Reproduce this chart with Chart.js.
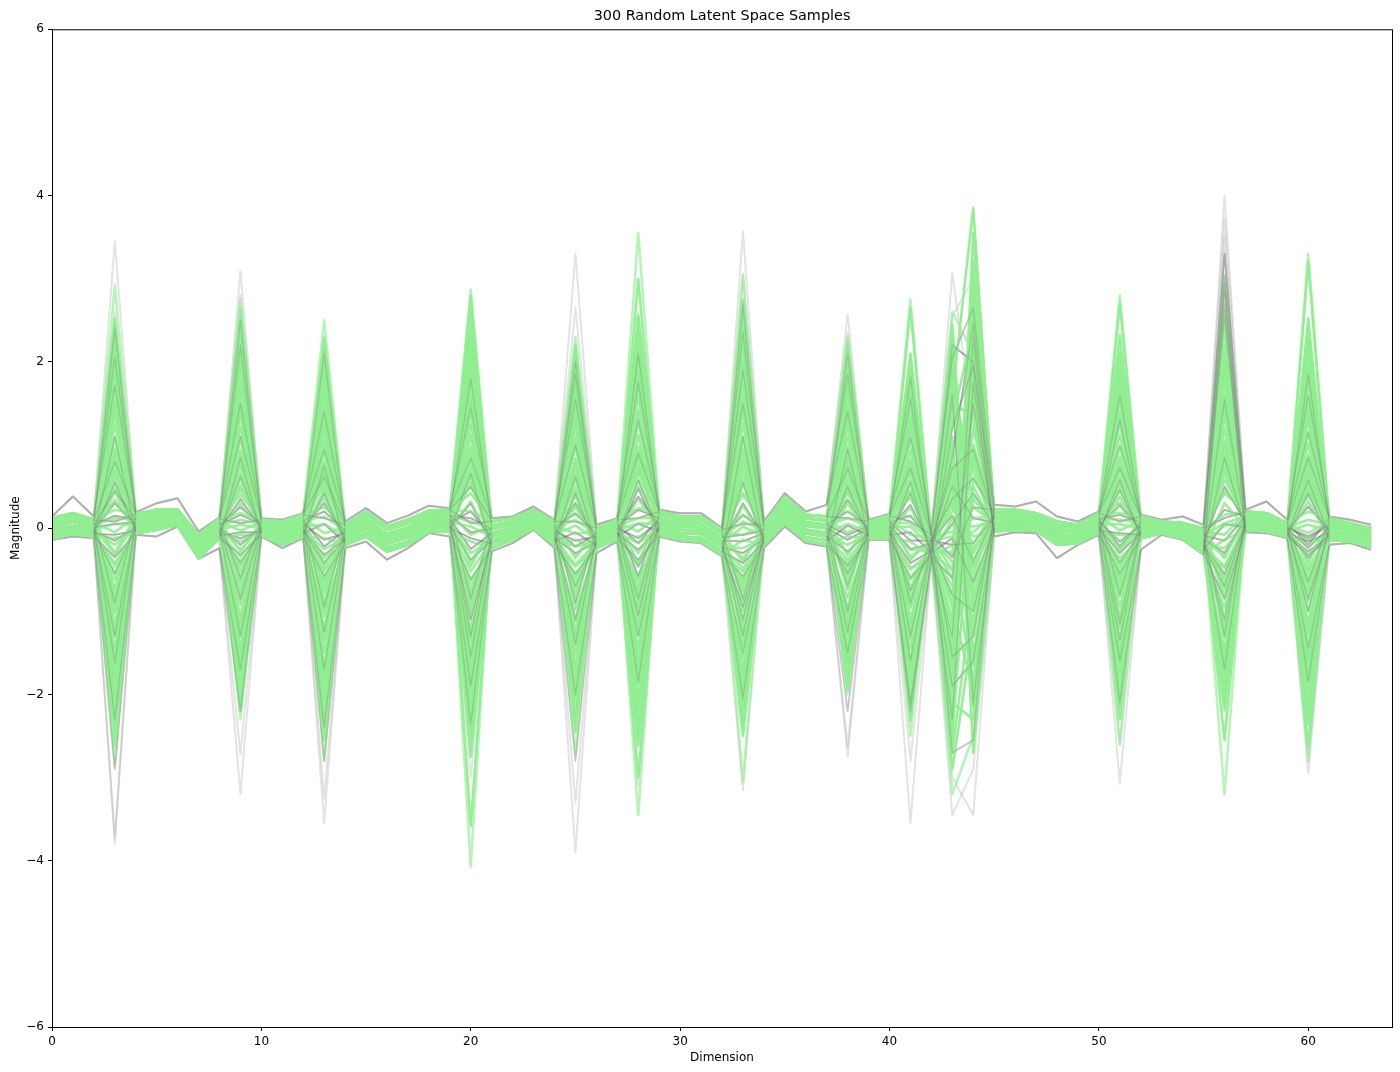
<!DOCTYPE html>
<html><head><meta charset="utf-8">
<script src="https://cdn.jsdelivr.net/npm/chart.js@4"></script>
<style>html,body{margin:0;padding:0;background:#fff}#w{width:1400px;height:1072px;position:relative}</style>
</head><body><div id="w"><canvas id="c" width="1400" height="1072"></canvas></div>
<script>
const titleText = "300 Random Latent Space Samples";
const xLabel = "Dimension";
const yLabel = "Magnitude";
const xTicks = [0,10,20,30,40,50,60];
const yTicks = [-6,-4,-2,0,2,4,6];
const spikeDims = [3,9,13,20,25,28,33,38,41,43,44,51,56,60];
const baseDims = [0,1,2,4,5,6,7,8,10,11,12,14,15,16,17,18,19,21,22,23,24,26,27,29,30,31,32,34,35,36,37,39,40,42,45,46,47,48,49,50,52,53,54,55,57,58,59,61,62,63];
// quiet-dimension band, one row per baseDims entry, top to bottom of the green band
const bandRows = [
[.12,.09,.05,.02,-.02,-.05,-.09,-.12],[.18,.15,.11,.08,.03,0,-.04,-.07],[.10,.07,.04,.01,-.02,-.04,-.07,-.10],
[.17,.14,.10,.07,.04,.01,-.03,-.06],[.22,.19,.15,.12,.08,.05,.01,-.02],[.22,.19,.17,.14,.12,.09,.07,.04],
[-.08,-.12,-.16,-.20,-.24,-.28,-.32,-.36],[.11,.08,.04,.01,-.02,-.05,-.09,-.12],[.10,.07,.05,.02,0,-.03,-.05,-.08],
[.08,.04,0,-.04,-.08,-.12,-.16,-.20],[.16,.12,.09,.05,.01,-.03,-.06,-.10],[.04,.01,-.03,-.06,-.10,-.13,-.17,-.20],
[.20,.16,.11,.07,.03,-.01,-.06,-.10],[.02,-.02,-.07,-.11,-.15,-.19,-.24,-.28],[.10,.06,.01,-.03,-.07,-.11,-.16,-.20],
[.21,.17,.14,.10,.07,.03,0,-.04],[.22,.18,.15,.11,.07,.03,0,-.04],[.08,.03,-.01,-.06,-.10,-.15,-.19,-.24],
[.12,.08,.05,.01,-.03,-.07,-.10,-.14],[.22,.19,.16,.13,.09,.06,.03,0],[.08,.04,0,-.04,-.08,-.12,-.16,-.20],
[0,-.03,-.07,-.10,-.14,-.17,-.21,-.24],[.10,.07,.03,0,-.03,-.06,-.10,-.13],[.20,.16,.12,.08,.04,0,-.04,-.08],
[.14,.10,.06,.02,-.02,-.06,-.10,-.14],[.14,.10,.05,.01,-.03,-.07,-.12,-.16],[-.02,-.06,-.11,-.15,-.19,-.23,-.28,-.32],
[.04,.01,-.03,-.06,-.10,-.13,-.17,-.20],[.38,.33,.29,.24,.20,.15,.11,.06],[.16,.12,.07,.03,-.02,-.06,-.11,-.15],
[.14,.09,.04,0,-.06,-.10,-.15,-.20],[.08,.05,.02,0,-.04,-.06,-.09,-.12],[.15,.11,.07,.03,0,-.04,-.08,-.12],
[-.08,-.12,-.15,-.19,-.23,-.27,-.30,-.34],[.22,.18,.14,.11,.07,.03,0,-.04],[.22,.19,.15,.12,.08,.05,.01,-.02],
[.18,.15,.12,.09,.06,.03,0,-.03],[.08,.04,0,-.04,-.08,-.12,-.16,-.20],[.04,.01,-.02,-.05,-.09,-.12,-.15,-.18],
[.18,.15,.11,.08,.04,.01,-.03,-.06],[.14,.10,.07,.03,-.01,-.05,-.08,-.12],[.08,.06,.04,.02,0,-.02,-.04,-.06],
[.06,.03,.01,-.02,-.04,-.07,-.09,-.12],[0,-.04,-.09,-.13,-.17,-.21,-.26,-.30],[.20,.17,.14,.11,.07,.04,.01,-.02],
[.18,.15,.12,.09,.05,.02,-.01,-.04],[.06,.04,.01,-.01,-.03,-.06,-.08,-.10],[.12,.08,.04,.01,-.03,-.06,-.10,-.14],
[.06,.03,0,-.03,-.07,-.10,-.13,-.16],[0,-.03,-.06,-.09,-.13,-.16,-.19,-.22]];
const grayTop = [.14,.38,.14,.19,.30,.36,-.04,.13,.12,.10,.18,.08,.24,.06,.15,.27,.24,.12,.14,.26,.10,.04,.12,.22,.18,.18,0,.08,.42,.20,.28,.10,.17,-.05,.28,.26,.32,.14,.08,.20,.16,.10,.14,.04,.22,.32,.10,.14,.10,.04];
const grayLow = [-.14,-.10,-.12,-.08,-.10,.02,-.37,-.24,-.10,-.24,-.12,-.24,-.16,-.38,-.24,-.06,-.10,-.28,-.18,-.02,-.24,-.30,-.16,-.10,-.16,-.18,-.34,-.24,.02,-.18,-.22,-.14,-.14,-.36,-.10,-.05,-.06,-.36,-.20,-.08,-.26,-.08,-.14,-.32,-.05,-.06,-.12,-.20,-.18,-.26];
// spike-dimension readings, one list per spike dimension
const gray3  = [3.45,-3.8,2.6,-3.72,2.05,-2.9,1.72,-2.3,.8,-1.62,.55,-.9,.3,-.35,.15,-.15,.08,.05,-.08,2.4,-1.3,1.1,.45,-.55];
const gray9  = [3.1,-3.2,2.8,-2.72,2.2,-2.2,1.5,-1.7,1.1,-.85,.62,-.6,.35,-.32,.16,-.12,.06,-.2,-.05,2.5,-1.3,.85,.25,-.42];
const gray13 = [2.3,-3.55,1.85,-3.25,1.4,-2.8,.95,-2.4,.62,-1.25,.42,-.95,.3,-.58,.2,-.32,.12,-.14,.05,2.1,-1.7,.75,-.22,-.42];
const gray20 = [2.2,-3.0,2.15,-2.4,1.45,-2.35,.85,-1.9,.5,-1.3,.3,-.85,.2,-.62,.12,-.38,.06,-.25,-.12,1.8,-1.55,.66,-.05,-1.1];
const gray25 = [3.3,-3.9,2.65,-3.3,2.0,-2.8,1.55,-2.0,1.0,-1.4,.62,-.9,.3,-.55,.18,-.3,.08,-.15,-.05,1.85,-1.1,.42,-.22,-.7];
const gray28 = [2.6,-3.1,2.55,-2.3,1.75,-1.85,1.3,-1.3,.9,-.85,.58,-.58,.38,-.38,.22,-.26,.12,-.12,.05,2.1,-1.05,.48,-.18,-.46];
const gray33 = [3.57,-3.15,3.05,-2.45,2.35,-2.05,1.9,-1.5,1.5,-1.1,.55,-.85,.3,-.58,.16,-.3,.05,-.16,-.42,2.7,-1.3,1.1,-.08,-.95];
const gray38 = [2.57,-2.75,2.35,-2.62,1.85,-2.2,1.4,-1.5,.72,-1.0,.5,-.7,.34,-.45,.2,-.28,.12,-.14,.03,2.1,-1.25,.95,-.08,-.55];
const gray41 = [2.1,-3.55,2.05,-2.8,1.55,-2.2,1.1,-2.1,.72,-1.3,.42,-.9,.28,-.6,.15,-.42,.08,-.25,-.05,1.82,-1.6,.55,-.15,-.75];
const gray43 = [3.07,-3.45,2.55,-3.0,2.05,-1.3,-2.7,1.2,2.2,.72,-1.9,.35,-.8,-2.3,.15,1.6,-.35,.85,-.12,-1.55,.5,-.6,-.2,.05];
const gray44 = [1.2,-2.9,3.0,-3.45,2.65,2.3,-2.55,1.95,2.0,.95,-1.6,.6,-1.0,1.75,-.4,-2.1,.25,2.45,-.65,-1.3,.12,1.5,-.18,.42];
const gray51 = [2.1,-3.07,1.9,-2.6,1.6,-2.1,1.0,-1.6,.72,-1.15,.46,-.8,.28,-.55,.16,-.3,.08,-.16,-.06,1.3,-1.35,.58,-.22,-.42];
const gray56 = [4.0,-2.2,3.72,3.5,3.05,2.95,2.85,2.7,2.55,-1.7,1.55,-1.3,.5,-.85,.22,-.55,.12,-.3,.05,3.3,-1.1,.85,-.15,-.7];
const gray60 = [2.25,-2.95,1.95,-2.75,1.6,-1.85,1.15,-1.45,.85,-1.0,.58,-.65,.26,-.32,-.1,-.16,-.2,-.24,-.28,1.85,-.85,.42,-.13,-.36];
const green3  = [2.92,-2.85,2.52,-2.62,2.35,-2.38,2.18,-2.2,2.02,-2.05,1.86,-1.9,1.7,-1.74,1.55,-1.58,1.38,-1.46,1.25,-1.3,1.1,-1.15,.96,-1.02,.84,-.88,.7,-.72,.6,-.55,.44,-.42,.32,-.3,2.46,-2.45,1.95,-1.82,1.48,-1.22];
const green9  = [2.75,-2.3,2.55,-2.2,2.4,-2.08,2.25,-1.95,2.1,-1.82,1.94,-1.7,1.8,-1.58,1.66,-1.44,1.52,-1.3,1.36,-1.2,1.22,-1.06,1.08,-.92,.94,-.8,.8,-.66,.66,-.52,.52,-.4,.4,-.28,2.62,-2.14,2.0,-1.5,1.44,-1.12];
const green13 = [2.5,-2.8,2.28,-2.55,2.14,-2.42,2.0,-2.25,1.86,-2.1,1.72,-1.95,1.6,-1.8,1.46,-1.66,1.32,-1.5,1.18,-1.36,1.06,-1.2,.92,-1.06,.8,-.9,.68,-.78,.56,-.64,.46,-.52,.6,-.44,2.2,-2.34,1.64,-1.74,1.26,-1.0];
const green20 = [2.87,-4.07,2.8,-3.58,2.48,-2.75,2.3,-2.45,2.14,-2.3,2.0,-2.12,1.84,-1.96,1.7,-1.82,1.56,-1.66,1.4,-1.5,1.26,-1.36,1.12,-1.2,.98,-1.04,.84,-.9,.7,-.76,.56,-.62,.42,-.46,2.6,-2.6,1.9,-1.74,1.5,-1.28];
const green25 = [2.3,-2.7,2.12,-2.45,2.0,-2.25,1.86,-2.08,1.74,-1.94,1.6,-1.8,1.48,-1.66,1.36,-1.52,1.22,-1.38,1.1,-1.24,.98,-1.12,.84,-.98,.72,-.86,.62,-.72,.5,-.6,.4,-.46,.3,-.36,2.2,-2.36,1.66,-1.72,1.3,-1.3];
const green28 = [3.55,-3.45,3.0,-3.0,2.55,-2.62,2.38,-2.4,2.2,-2.2,2.04,-2.04,1.88,-1.88,1.72,-1.74,1.58,-1.58,1.42,-1.44,1.28,-1.28,1.12,-1.14,.98,-1.0,.84,-.86,.7,-.72,.58,-.6,.74,-.42,2.46,-2.5,1.8,-1.66,1.36,-1.2];
const green33 = [3.05,-3.05,2.75,-2.5,2.55,-2.32,2.38,-2.16,2.2,-2.0,2.04,-1.86,1.88,-1.7,1.72,-1.56,1.56,-1.42,1.4,-1.28,1.26,-1.14,1.1,-1.0,.96,-.88,.82,-.76,.68,-.64,.54,-.52,.42,-.4,2.64,-2.4,1.96,-1.78,1.48,-1.2];
const green38 = [2.3,-2.0,2.14,-1.9,2.0,-1.82,1.86,-1.72,1.74,-1.62,1.62,-1.5,1.48,-1.4,1.36,-1.28,1.22,-1.18,1.1,-1.06,.98,-.96,.86,-.84,.76,-.74,.66,-.64,.54,-.52,.44,-.42,.34,-.32,2.22,-1.95,1.68,-1.56,1.3,-1.12];
const green41 = [2.75,-2.5,2.65,-2.32,2.1,-2.18,1.96,-2.02,1.82,-1.88,1.7,-1.74,1.58,-1.6,1.44,-1.46,1.32,-1.34,1.2,-1.22,1.06,-1.08,.94,-.96,.82,-.84,.7,-.72,.58,-.6,.46,-.48,.36,-.38,2.02,-2.1,1.64,-1.68,1.26,-1.14];
const green43 = [2.6,-3.2,1.6,-2.9,-1.1,2.3,-2.55,.9,2.05,-1.8,-.4,1.85,-2.3,.55,1.65,-.8,-2.1,1.3,-1.5,.2,2.45,-1.2,1.1,-2.7,1.45,-1.95,.75,-.6,-1.65,2.15,.4,-1.35,1.0,-2.45,.62,-.95,1.9,-.3,.3,-.2];
const green44 = [2.1,-2.5,3.85,-1.2,1.6,-2.7,2.95,1.0,-2.05,3.55,-1.85,-.5,3.2,-1.5,.7,2.6,-2.3,2.4,.4,1.85,-1.0,2.2,-2.15,-.7,1.4,2.78,-.3,1.2,2.05,-1.65,.85,1.7,-1.3,.6,-.9,-1.95,.25,2.5,-.45,1.5];
const green51 = [2.8,-2.6,2.32,-2.3,2.12,-2.05,1.96,-1.9,1.82,-1.76,1.68,-1.62,1.54,-1.48,1.4,-1.34,1.26,-1.2,1.12,-1.06,.98,-.94,.86,-.82,.74,-.7,.62,-.6,.5,-.48,.38,-.36,.3,-.26,2.7,-2.16,1.76,-1.56,1.34,-1.12];
const green56 = [3.0,-3.2,2.62,-2.55,2.42,-2.18,2.22,-2.02,2.04,-1.88,1.9,-1.74,1.76,-1.6,1.62,-1.46,1.48,-1.32,1.34,-1.2,1.2,-1.08,1.06,-.96,.92,-.84,.78,-.72,.66,-.6,1.02,-.48,.42,-.36,2.5,-2.1,1.95,-1.54,1.4,-1.14];
const green60 = [3.3,-2.8,3.2,-2.62,2.52,-2.36,2.26,-2.16,2.08,-2.0,1.92,-1.84,1.76,-1.7,1.6,-1.56,1.46,-1.42,1.3,-1.28,1.16,-1.14,1.02,-1.0,.88,-.88,.74,-.76,.62,-.64,.5,-.52,.38,-.42,2.4,-2.26,1.84,-1.62,1.38,-1.2];
// small-amplitude green samples, one row per sample, one value per spike dimension
const greenSmall = [
[.22,.18,.25,.2,.16,.24,.15,.2,.14,.3,-.2,.18,.16,.2],
[-.2,-.16,-.25,-.3,-.22,-.18,-.24,-.2,-.26,-.3,.35,-.16,-.24,-.2],
[.12,.1,.14,.08,.1,.12,.08,.12,.06,-.1,.12,.1,.06,.1],
[-.12,-.08,-.12,-.16,-.14,-.1,-.14,-.1,-.16,.12,-.1,-.08,-.14,-.12],
[.05,.04,.05,.02,.03,.06,.02,.05,.02,.04,.02,.05,.03,.04],
[-.05,-.03,-.06,-.08,-.07,-.04,-.08,-.05,-.08,-.04,-.05,-.03,-.08,-.06],
[.34,.3,.36,.32,.26,.36,.28,.3,.26,-.5,.5,.28,.3,.32],
[-.32,-.26,-.36,-.4,-.32,-.3,-.36,-.3,-.34,.5,-.4,-.28,-.34,-.34],
[.48,.46,.5,.5,.44,.5,.4,.42,.42,.7,-.6,.44,.46,.44],
[-.46,-.34,-.48,-.52,-.44,-.46,-.48,-.38,-.5,-.7,.8,-.42,-.46,-.48],
[.66,.6,.64,.62,.58,.66,.6,.6,.55,-.9,1.0,.56,.58,.56],
[-.62,-.46,-.6,-.68,-.55,-.64,-.6,-.48,-.62,.85,-.8,-.54,-.58,-.58],
[.78,.74,.76,.78,.68,.78,.74,.7,.66,1.25,.9,.7,.72,.68],
[-.8,-.6,-.72,-.82,-.68,-.78,-.7,-.58,-.76,-.5,-1.1,-.66,-.66,-.7],
[.92,.88,.98,.92,.8,.92,.88,.82,.78,1.55,1.3,.82,.85,.8],
[-.95,-.74,-.9,-.98,-.8,-.92,-.84,-.7,-.9,-1.45,-.25,-.78,-.8,-.84]];
const graySpikes = [gray3,gray9,gray13,gray20,gray25,gray28,gray33,gray38,gray41,gray43,gray44,gray51,gray56,gray60];
const greenSpikes = [green3,green9,green13,green20,green25,green28,green33,green38,green41,green43,green44,green51,green56,green60];

function rowPoints(valueAt, baseFn){
  const pts = [];
  spikeDims.forEach((d,s)=>pts.push({x:d,y:valueAt(s)}));
  baseDims.forEach((d,b)=>pts.push({x:d,y:baseFn(b)}));
  return pts.sort((a,b)=>a.x-b.x);
}
const isSpike = x => spikeDims.includes(x);
const datasets = [];
const GRAY_EDGE='rgba(128,128,128,.22)', GRAY_MID='rgba(128,128,128,.5)', GRAY_OVER='rgba(125,115,125,.3)';
for(let i=0;i<gray3.length;i++){
  const edge=i<8, lvl=(i*3)%8;
  const pts=rowPoints(s=>graySpikes[s][i],b=>edge?(i%2===0?grayTop[b]:grayLow[b]):bandRows[b][lvl]);
  datasets.push({order:3,data:pts,borderColor:edge?GRAY_EDGE:GRAY_MID,borderWidth:2});
  // most samples also show through the gaps of the green fill around each spike
  if(i>=4) datasets.push({order:0,data:pts,borderWidth:1.3,borderColor:GRAY_OVER,
    segment:{borderColor:c=>(isSpike(c.p0.parsed.x)||isSpike(c.p1.parsed.x))?GRAY_OVER:'rgba(0,0,0,0)'}});
}
for(let i=0;i<green3.length;i++){
  datasets.push({order:2,data:rowPoints(s=>greenSpikes[s][i],b=>bandRows[b][i%8]),
    borderColor:i<2?'rgba(144,238,144,.65)':'rgba(144,238,144,.95)',borderWidth:2.6});
}
greenSmall.forEach((row,i)=>{
  datasets.push({order:2,data:rowPoints(s=>row[s],b=>bandRows[b][(i*5)%8]),
    borderColor:'rgba(144,238,144,.9)',borderWidth:2.6});
});
const font={family:"'DejaVu Sans'",size:12};
new Chart(document.getElementById('c'),{
  type:'line',
  data:{datasets},
  options:{
    responsive:false,animation:false,events:[],
    layout:{padding:{left:0,right:8,top:0,bottom:0}},
    elements:{point:{radius:0},line:{tension:0,borderJoinStyle:'round',borderCapStyle:'butt'}},
    plugins:{legend:{display:false},tooltip:{enabled:false},
      title:{display:true,text:titleText,color:'#000',font:{family:"'DejaVu Sans'",size:14.4,weight:'normal'},padding:{top:8,bottom:4}}},
    scales:{
      x:{type:'linear',min:0,max:64,
        afterBuildTicks:s=>{s.ticks=xTicks.map(v=>({value:v}));},
        afterFit:s=>{s.height=45;},
        ticks:{color:'#000',font,padding:4,maxRotation:0,autoSkip:false,includeBounds:false},
        grid:{drawOnChartArea:false,tickLength:4,tickColor:'#000',tickWidth:1},
        border:{color:'#000',width:1},
        title:{display:true,text:xLabel,color:'#000',font,padding:{top:2,bottom:7}}},
      y:{type:'linear',min:-6,max:6,
        afterBuildTicks:s=>{s.ticks=yTicks.map(v=>({value:v}));},
        afterFit:s=>{s.width=52;},
        ticks:{color:'#000',font,padding:4,autoSkip:false,callback:v=>String(v).replace('-','\u2212')},
        grid:{drawOnChartArea:false,tickLength:4,tickColor:'#000',tickWidth:1},
        border:{color:'#000',width:1},
        title:{display:true,text:yLabel,color:'#000',font,padding:{top:9,bottom:0}}}
    }
  },
  plugins:[{id:'frame',
    beforeDraw(c){const a=c.chartArea;if(c.titleBlock){c.titleBlock.left=a.left;c.titleBlock.right=a.right;}},
    afterDraw(c){const a=c.chartArea,g=c.ctx;g.save();g.strokeStyle='#000';g.lineWidth=1;g.strokeRect(a.left+.5,a.top+.5,a.right-a.left,a.bottom-a.top);g.restore();}}]
});
</script></body></html>
